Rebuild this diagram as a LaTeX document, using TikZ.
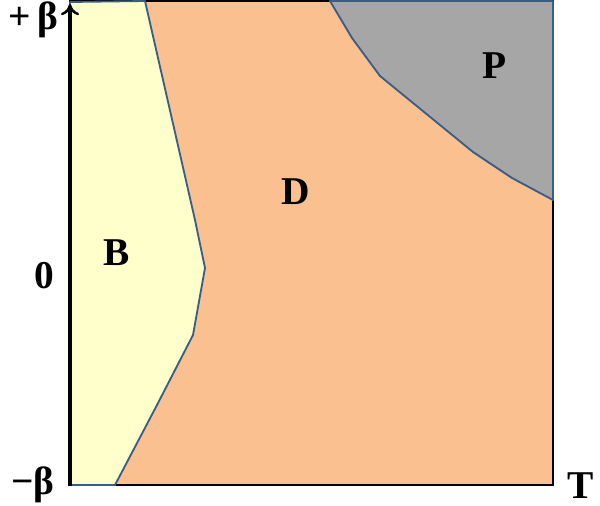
\documentclass[tikz,border=0pt]{standalone}
\usepackage{fontspec}
\setmainfont{Liberation Serif}
\usetikzlibrary{arrows.meta}
\definecolor{bregion}{HTML}{FFFFCC}
\definecolor{dregion}{HTML}{FAC090}
\definecolor{pregion}{HTML}{A6A6A6}
\definecolor{edgeblue}{HTML}{385D8A}

\begin{document}
\begin{tikzpicture}[x=0.025cm, y=-0.025cm,
    region/.style={draw=edgeblue, line width=1.3pt, line join=round},
    lbl/.style={font=\fontsize{28}{32}\selectfont\bfseries, inner sep=0pt},
    yaxis/.style={-{To[length=8pt,width=13pt,line width=1.8pt]}, line width=2.4pt}
]
\useasboundingbox (0,0) rectangle (600,506);

% phase regions
\filldraw[fill=dregion, draw=black, line width=1pt] (70,1) rectangle (553,485);
\filldraw[region, fill=bregion] (70,2) -- (145,1) -- (195,220) -- (205,268)
    -- (193,335) -- (157,405) -- (115,485) -- (70,485) -- cycle;
\filldraw[region, fill=pregion] (330,1) -- (553,1) -- (553,200) -- (512,178)
    -- (473,152) -- (380,76) -- (352,38) -- cycle;

% axis
\coordinate (origin) at (70,486);
\coordinate (top) at (70,4);
\draw[yaxis] (origin) -- (top);

\node[lbl] (bphase) at (117,253) {B};
\node[lbl] (dphase) at (296,192) {D};
\node[lbl] (pphase) at (495,66) {P};
\node[lbl] (plusb) at (33,20) {+\,β};
\node[lbl] (zero) at (44,276) {0};
\node[lbl] (minusb) at (33,485) {−β};
\node[lbl] (temp) at (581,486) {T};
\end{tikzpicture}
\end{document}
